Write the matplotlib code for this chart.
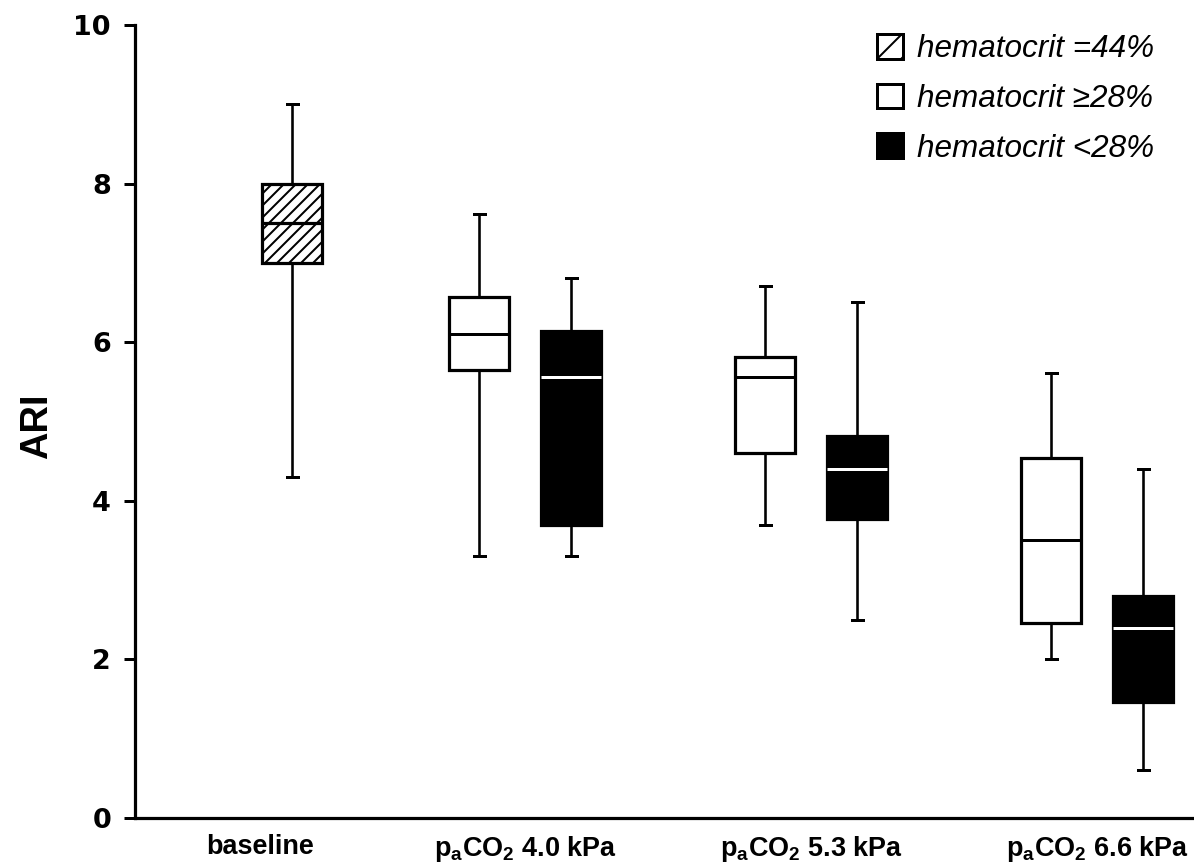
import matplotlib
matplotlib.use("Agg")
import matplotlib.pyplot as plt
from matplotlib.patches import Patch

# ---------------- data ----------------
categories = [
    "baseline",
    r"p$_\mathregular{a}$CO$_\mathregular{2}$ 4.0 kPa",
    r"p$_\mathregular{a}$CO$_\mathregular{2}$ 5.3 kPa",
    r"p$_\mathregular{a}$CO$_\mathregular{2}$ 6.6 kPa",
]
# each entry: [whisker low, Q1, median, Q3, whisker high]
baseline_stats = [4.3, 7.0, 7.5, 8.0, 9.0]
hct_high_stats = [
    [3.3, 5.65, 6.10, 6.57, 7.62],
    [3.7, 4.60, 5.56, 5.81, 6.71],
    [2.0, 2.46, 3.51, 4.54, 5.61],
]
hct_low_stats = [
    [3.3, 3.70, 5.56, 6.14, 6.81],
    [2.5, 3.77, 4.40, 4.82, 6.51],
    [0.6, 1.46, 2.40, 2.80, 4.40],
]
legend_labels = ["hematocrit =44%", "hematocrit \u226528%", "hematocrit <28%"]
y_ticks = [0, 2, 4, 6, 8, 10]
y_label = "ARI"

# ---------------- layout ----------------
DPI = 144
P = 72.0 / DPI  # points per pixel
W, H = 1194, 866
plt.rcParams["hatch.linewidth"] = 2.0 * P

fig = plt.figure(figsize=(W / DPI, H / DPI), dpi=DPI)
ax_left, ax_right, ax_bot, ax_top = 135, 1194, 818, 25
ax = fig.add_axes([ax_left / W, 1 - ax_bot / H, (ax_right - ax_left) / W, (ax_bot - ax_top) / H])

unit = 286.0  # pixels per group
base_pos = 1 - 233 / unit
off = 46 / unit
bw = 60 / unit
capw = 11 / unit


def to_stats(v):
    return dict(whislo=v[0], q1=v[1], med=v[2], q3=v[3], whishi=v[4], fliers=[])


common = dict(patch_artist=True, showfliers=False, manage_ticks=False,
              widths=bw, capwidths=capw,
              whiskerprops=dict(color="black", linewidth=2.6 * P),
              capprops=dict(color="black", linewidth=3.0 * P))

groups = [1, 2, 3]

ax.bxp([to_stats(baseline_stats)], positions=[base_pos],
       boxprops=dict(facecolor="white", edgecolor="black", linewidth=3.2 * P, hatch="////"),
       medianprops=dict(color="black", linewidth=3.2 * P), **common)

ax.bxp([to_stats(s) for s in hct_high_stats], positions=[g - off for g in groups],
       boxprops=dict(facecolor="white", edgecolor="black", linewidth=3.2 * P),
       medianprops=dict(color="black", linewidth=3.0 * P), **common)

ax.bxp([to_stats(s) for s in hct_low_stats], positions=[g + off for g in groups],
       boxprops=dict(facecolor="black", edgecolor="black", linewidth=3.2 * P),
       medianprops=dict(color="white", linewidth=3.0 * P, solid_capstyle="butt"), **common)

ax.set_xlim(1 - (525 - ax_left) / unit, 3 + (ax_right - 1097) / unit)
ax.set_ylim(0, 10)

# spines
for s in ["top", "right"]:
    ax.spines[s].set_visible(False)
for s in ["left", "bottom"]:
    ax.spines[s].set_linewidth(3.2 * P)

# y ticks
ax.set_yticks(y_ticks)
ax.set_yticklabels([str(t) for t in y_ticks])
ax.tick_params(axis="y", direction="out", length=11 * P, width=3 * P, pad=13 * P,
               labelsize=27 * P)
for lab in ax.get_yticklabels():
    lab.set_fontfamily("DejaVu Sans")
    lab.set_fontweight("bold")

# x tick labels
label_pos = [1 - (525 - 260) / unit, 1, 2, 3]
ax.set_xticks(label_pos)
ax.set_xticklabels(categories)
ax.tick_params(axis="x", length=0, pad=16 * P, labelsize=27 * P)
for lab in ax.get_xticklabels():
    lab.set_fontfamily(["Liberation Sans", "DejaVu Sans"])
    lab.set_fontweight("bold")

# y label
ax.set_ylabel(y_label, fontsize=38 * P, fontweight="bold",
              fontfamily=["Liberation Sans", "DejaVu Sans"])
ax.yaxis.set_label_coords((55 - ax_left) / (ax_right - ax_left), 0.494)

# legend
handles = [
    Patch(facecolor="white", edgecolor="black", hatch="//", linewidth=3 * P),
    Patch(facecolor="white", edgecolor="black", linewidth=3 * P),
    Patch(facecolor="black", edgecolor="black", linewidth=3 * P),
]
leg = fig.legend(handles, legend_labels, loc="upper left",
                 bbox_to_anchor=(877 / W, 1 - 34 / H), bbox_transform=fig.transFigure,
                 frameon=False, borderpad=0, borderaxespad=0,
                 handlelength=0.82, handleheight=0.82, handletextpad=0.45,
                 labelspacing=0.62,
                 prop=dict(family=["Liberation Sans", "DejaVu Sans"], style="italic",
                           size=31.5 * P))

fig.savefig("out.png", dpi=DPI)
